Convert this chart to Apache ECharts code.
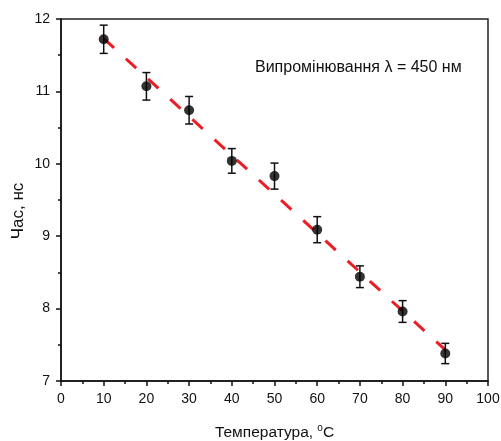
<!DOCTYPE html>
<html>
<head>
<meta charset="utf-8">
<script src="https://cdn.jsdelivr.net/npm/echarts@6/dist/echarts.min.js"></script>
<style>html,body{margin:0;padding:0;background:#fff}#c{width:501px;height:441px}</style>
</head>
<body>
<div id="c"></div>
<script>
var temps = [10, 20, 30, 40, 50, 60, 70, 80, 90];
var times = [11.72, 11.07, 10.74, 10.04, 9.83, 9.09, 8.44, 7.96, 7.38];
var errs = [0.195, 0.19, 0.19, 0.17, 0.18, 0.18, 0.15, 0.15, 0.14];
var fitX = [10, 90];
var fitY = [11.73, 7.43];
var annotation = 'Випромінювання λ = 450 нм';
var yTitle = 'Час, нс';

var chart = echarts.init(document.getElementById('c'), null, {renderer: 'canvas'});
var font = 'Liberation Sans, Arial, sans-serif';
var pts = temps.map(function (t, i) { return [t, times[i]]; });
var errData = temps.map(function (t, i) { return [t, times[i] - errs[i], times[i] + errs[i]]; });
var fitData = fitX.map(function (x, i) { return [x, fitY[i]]; });

chart.setOption({
  animation: false,
  backgroundColor: '#fff',
  grid: {left: 61, right: 13, top: 19, bottom: 60, containLabel: false, outerBoundsMode: 'none', show: true, borderColor: '#222', borderWidth: 1.5, backgroundColor: 'transparent'},
  xAxis: {
    type: 'value', min: 0, max: 100, interval: 10,
    name: 'Температура, {sup|o}C', nameLocation: 'middle', nameGap: 42,
    nameTextStyle: {fontFamily: font, fontSize: 15.5, color: '#111', rich: {sup: {fontSize: 10, fontFamily: font, color: '#111', padding: [0, 0, 9, 0]}}},
    axisLine: {lineStyle: {color: '#111', width: 1.5}},
    axisTick: {inside: false, length: 5, lineStyle: {color: '#111', width: 1.5}},
    minorTick: {show: true, splitNumber: 2, length: 3, lineStyle: {color: '#111', width: 1.5}},
    axisLabel: {fontFamily: font, fontSize: 14, color: '#111', margin: 11},
    splitLine: {show: false}
  },
  yAxis: {
    type: 'value', min: 7, max: 12, interval: 1,
    axisLine: {lineStyle: {color: '#111', width: 1.5}},
    axisTick: {inside: false, length: 5, lineStyle: {color: '#111', width: 1.5}},
    minorTick: {show: true, splitNumber: 2, length: 3, lineStyle: {color: '#111', width: 1.5}},
    axisLabel: {fontFamily: font, fontSize: 14, color: '#111', margin: 11},
    splitLine: {show: false}
  },
  graphic: [{
    type: 'text', left: 255, top: 60,
    style: {text: annotation, font: '16px ' + font, fill: '#111'}
  }, {
    type: 'text', x: 18, y: 211, rotation: Math.PI / 2,
    style: {text: yTitle, font: '17px ' + font, fill: '#111', textAlign: 'center', textVerticalAlign: 'middle'}
  }],
  series: [
    {
      type: 'line', data: fitData, symbol: 'none', z: 2,
      lineStyle: {color: '#ee1c25', width: 3, type: [14, 16]}
    },
    {
      type: 'custom', z: 3,
      data: errData,
      renderItem: function (params, api) {
        var x = api.value(0);
        var lo = api.coord([x, api.value(1)]);
        var hi = api.coord([x, api.value(2)]);
        var w = 4;
        var st = {stroke: '#111', lineWidth: 1.5};
        return {type: 'group', children: [
          {type: 'line', shape: {x1: lo[0], y1: lo[1], x2: hi[0], y2: hi[1]}, style: st},
          {type: 'line', shape: {x1: lo[0] - w, y1: lo[1], x2: lo[0] + w, y2: lo[1]}, style: st},
          {type: 'line', shape: {x1: hi[0] - w, y1: hi[1], x2: hi[0] + w, y2: hi[1]}, style: st}
        ]};
      }
    },
    {
      type: 'scatter', data: pts, symbol: 'circle', symbolSize: 10, z: 4,
      itemStyle: {color: '#000'}
    }
  ]
});
</script>
</body>
</html>
